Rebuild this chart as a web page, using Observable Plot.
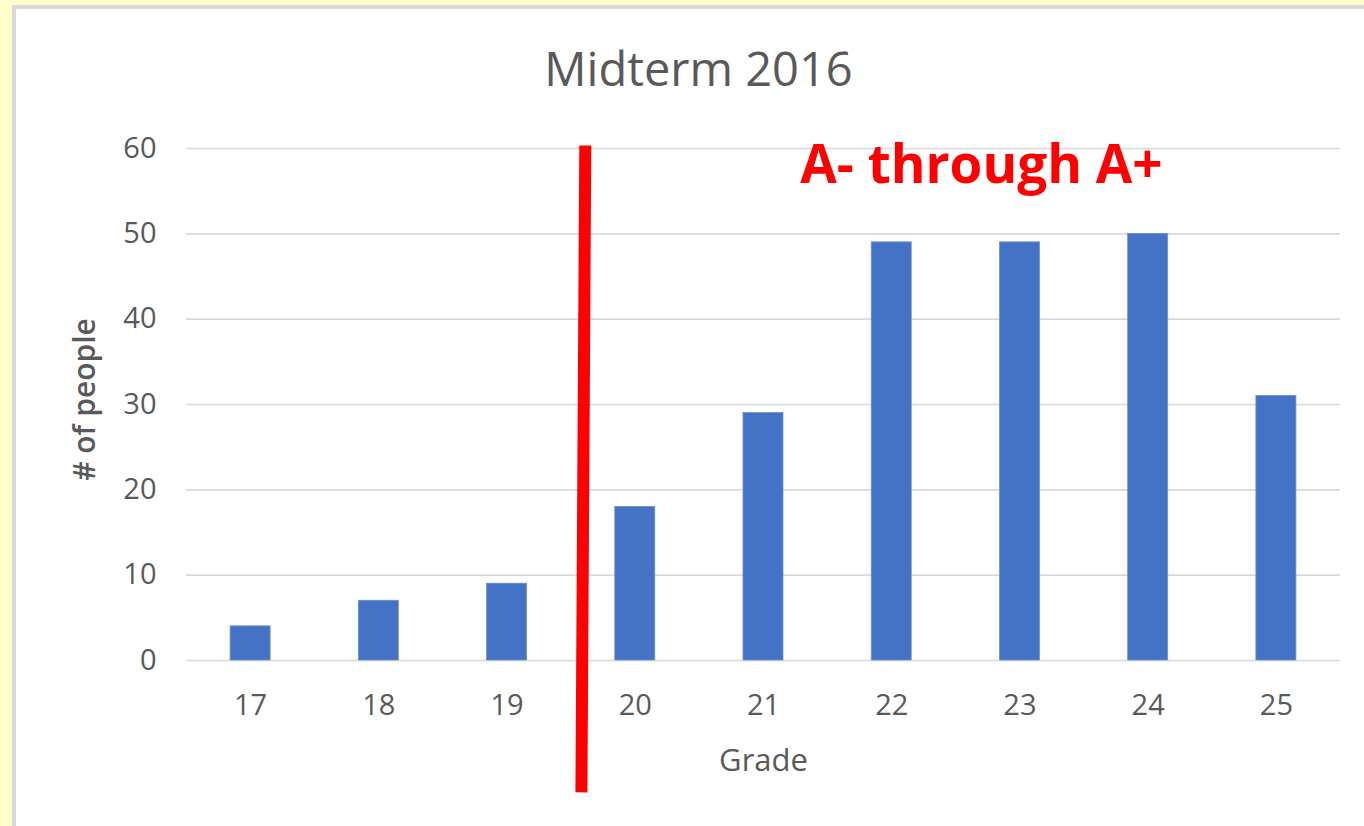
<!DOCTYPE html>
<html>
<head>
<meta charset="utf-8">
<script src="https://cdn.jsdelivr.net/npm/d3@7"></script>
<script src="https://cdn.jsdelivr.net/npm/@observablehq/plot@0.6"></script>
<style>
  html, body { margin: 0; padding: 0; }
  body { background: #ffffcc; width: 1364px; height: 826px; overflow: hidden; position: relative; font-family: "Open Sans", sans-serif; }
  #frame { position: absolute; left: 12px; top: 5px; width: 1370px; height: 840px; border-left: 4px solid #d9d9d9; border-top: 4px solid #d9d9d9; background: #fff; }
  #title { box-sizing: border-box; width: 1348px; height: 101px; padding-top: 36px; padding-left: 17px; text-align: center; font-size: 47px; line-height: 1; color: #595959; font-family: "Open Sans", sans-serif; }
  #chart svg { display: block; }
</style>
</head>
<body>
<div id="frame">
  <div id="title">Midterm 2016</div>
  <div id="chart"></div>
</div>
<script>
const grades = [17, 18, 19, 20, 21, 22, 23, 24, 25];
const counts = [4, 7, 9, 18, 29, 49, 49, 50, 31];
const yTicks = [0, 10, 20, 30, 40, 50, 60];
const cutoffLine = [{x: 19.61, y: 60.35}, {x: 19.58, y: -15.45}];
const annotation = [{x: 22.70, y: 57.9, text: "A- through A+"}];
const xLabel = "Grade";
const yLabel = "# of people";

const data = grades.map((g, i) => ({grade: g, count: counts[i]}));
const halfBar = 0.156;

const chart = Plot.plot({
  width: 1348,
  height: 716,
  marginLeft: 170,
  marginRight: 24,
  marginTop: 38,
  marginBottom: 166,
  style: {fontFamily: "'Open Sans', sans-serif", color: "#595959", background: "transparent", overflow: "visible"},
  x: {domain: [16.5, 25.5], axis: null},
  y: {domain: [0, 60], axis: null},
  marks: [
    Plot.ruleY(yTicks, {stroke: "#d9d9d9", strokeWidth: 1.6}),
    Plot.rectY(data, {x1: d => d.grade - halfBar, x2: d => d.grade + halfBar, y1: 0, y2: "count", fill: "#4472c4", stroke: "#6f8fd3", strokeWidth: 0.8}),
    Plot.axisX(grades, {tickSize: 0, tickPadding: 34, fontSize: 29, fill: "#595959", label: null, tickFormat: d => String(d)}),
    Plot.axisY(yTicks, {tickSize: 0, tickPadding: 30, fontSize: 29, fill: "#595959", label: null}),
    Plot.text([xLabel], {frameAnchor: "bottom", dy: 110, fontSize: 31, fill: "#595959"}),
    Plot.text([yLabel], {frameAnchor: "left", textAnchor: "middle", dx: -101, dy: -5, rotate: -90, fontSize: 30, fontWeight: 600, fill: "#595959"}),
    Plot.line(cutoffLine, {x: "x", y: "y", stroke: "#ff0000", strokeWidth: 12, strokeLinecap: "butt"}),
    Plot.text(annotation, {x: "x", y: "y", text: "text", fontSize: 53, fontWeight: "bold", fill: "#ff0000"})
  ]
});
document.getElementById("chart").appendChild(chart);
</script>
</body>
</html>
